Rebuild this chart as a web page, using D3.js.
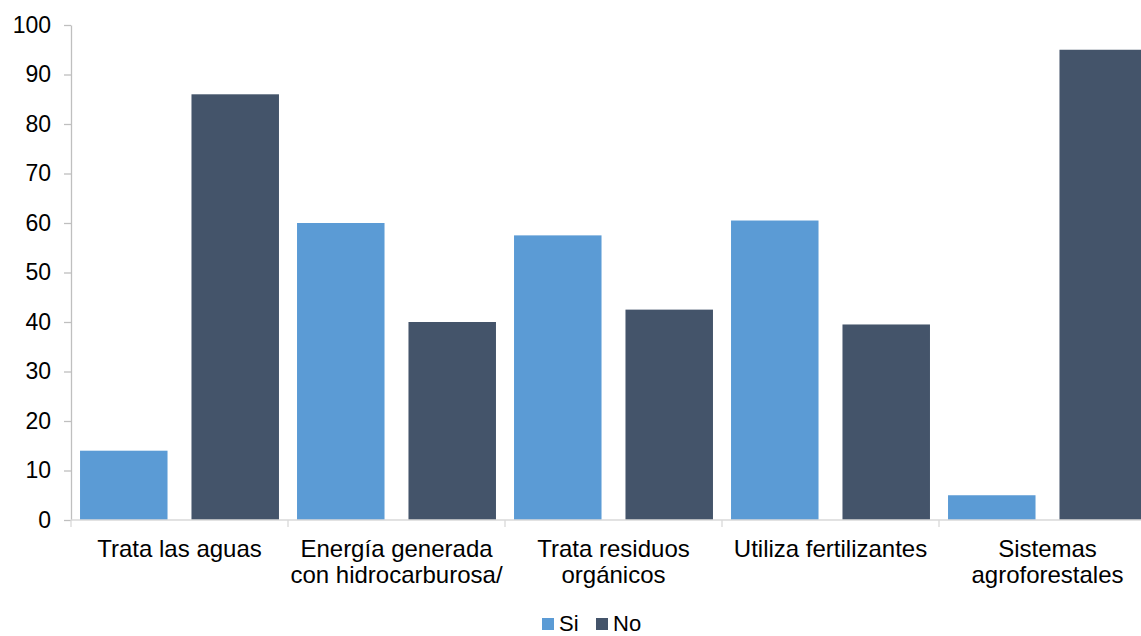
<!DOCTYPE html>
<html>
<head>
<meta charset="utf-8">
<script src="https://cdn.jsdelivr.net/npm/d3@7"></script>
<style>
  body { margin: 0; background: #fff; overflow: hidden; }
  text { font-family: "Liberation Sans", Arial, sans-serif; fill: #000; }
</style>
</head>
<body>
<div id="chart"></div>
<script>
var categories = ['Trata las aguas', 'Energía generada con hidrocarburosa/', 'Trata residuos orgánicos', 'Utiliza fertilizantes', 'Sistemas agroforestales'];
var labelLines = [['Trata las aguas'], ['Energía generada', 'con hidrocarburosa/'], ['Trata residuos', 'orgánicos'], ['Utiliza fertilizantes'], ['Sistemas', 'agroforestales']];
var seriesNames = ['Si', 'No'];
var siValues = [14, 60, 57.5, 60.5, 5];
var noValues = [86, 40, 42.5, 39.5, 95];
var yTicks = [0, 10, 20, 30, 40, 50, 60, 70, 80, 90, 100];
var colors = ['#5B9BD5', '#44546A'];

var width = 1141,
  height = 636;

var svg = d3.select('#chart')
  .append('svg')
  .attr('width', width)
  .attr('height', height)
  .style('display', 'block');

// plot area runs past the right edge, like the original
var x0 = d3.scaleBand()
  .domain(categories)
  .range([71, 1156]);

var x1 = d3.scaleBand()
  .domain(seriesNames)
  .range([0, x0.bandwidth()])
  .paddingInner(0.215)
  .paddingOuter(0.081);

var y = d3.scaleLinear()
  .domain([0, 100])
  .range([520, 25]);

var data = categories.map(function(c, i) {
  return { cat: c, values: [siValues[i], noValues[i]] };
});

// bars
var groups = svg.append('g')
  .selectAll('g')
  .data(data)
  .enter()
  .append('g')
  .attr('transform', function(d) { return 'translate(' + x0(d.cat) + ',0)'; });

groups.selectAll('rect')
  .data(function(d) {
    return d.values.map(function(v, j) { return { key: seriesNames[j], value: v, j: j }; });
  })
  .enter()
  .append('rect')
  .attr('x', function(d) { return x1(d.key); })
  .attr('y', function(d) { return y(d.value); })
  .attr('width', x1.bandwidth())
  .attr('height', function(d) { return y(0) - y(d.value); })
  .attr('fill', function(d) { return colors[d.j]; });

// y axis
var yAxis = svg.append('g')
  .attr('transform', 'translate(71,0)')
  .call(d3.axisLeft(y).tickValues(yTicks).tickSize(7).tickPadding(13).tickSizeOuter(0));
yAxis.select('.domain').attr('stroke', '#BFBFBF').attr('stroke-width', 1.3);
yAxis.selectAll('line').attr('stroke', '#BFBFBF').attr('stroke-width', 1.3);
yAxis.selectAll('text')
  .style('font-size', '23px')
  .style('font-family', '"Liberation Sans", Arial, sans-serif')
  .attr('fill', '#000');

// x axis line and ticks at band edges
var xAxis = svg.append('g').attr('transform', 'translate(0,520)');
xAxis.append('line')
  .attr('x1', 71).attr('x2', width)
  .attr('stroke', '#D9D9D9').attr('stroke-width', 1.3);
xAxis.selectAll('.tk')
  .data(categories)
  .enter()
  .append('line')
  .attr('x1', function(d) { return x0(d); })
  .attr('x2', function(d) { return x0(d); })
  .attr('y1', 0).attr('y2', 7)
  .attr('stroke', '#D9D9D9').attr('stroke-width', 1.3);

// category labels
var labels = svg.append('g')
  .selectAll('text')
  .data(data)
  .enter()
  .append('text')
  .attr('text-anchor', 'middle')
  .style('font-size', '24px')
  .attr('x', function(d) { return x0(d.cat) + x0.bandwidth() / 2; })
  .attr('y', 557);

labels.selectAll('tspan')
  .data(function(d, i) { return labelLines[i]; })
  .enter()
  .append('tspan')
  .attr('x', function() { return d3.select(this.parentNode).attr('x'); })
  .attr('dy', function(d, i) { return i === 0 ? 0 : 26; })
  .text(function(d) { return d; });

// legend
var legendX = [542, 596];
var legend = svg.selectAll('.legend')
  .data(seriesNames)
  .enter()
  .append('g')
  .attr('transform', function(d, i) { return 'translate(' + legendX[i] + ',618)'; });

legend.append('rect')
  .attr('width', 12)
  .attr('height', 12)
  .attr('fill', function(d, i) { return colors[i]; });

legend.append('text')
  .attr('x', 17)
  .attr('y', 13)
  .style('font-size', '22px')
  .text(function(d) { return d; });
</script>
</body>
</html>
